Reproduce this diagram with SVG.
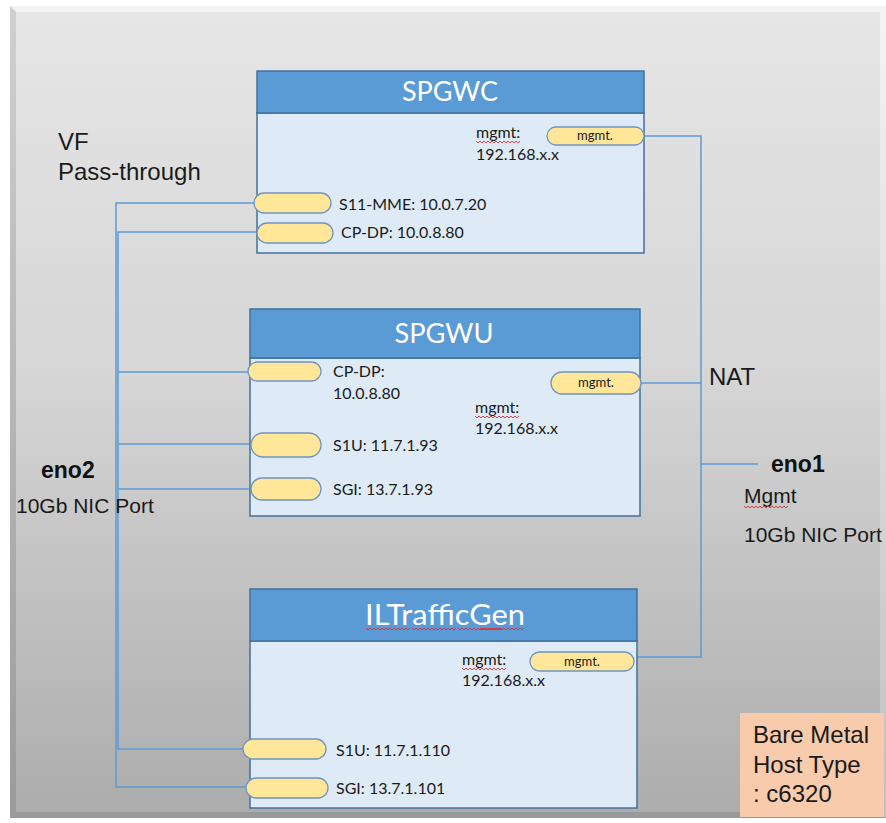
<svg xmlns="http://www.w3.org/2000/svg" width="886" height="823" viewBox="0 0 886 823">
  <defs>
    <linearGradient id="hostFill" x1="0" y1="0" x2="0" y2="1">
      <stop offset="0" stop-color="#e6e6e6"/>
      <stop offset="0.45" stop-color="#d6d6d6"/>
      <stop offset="1" stop-color="#acacac"/>
    </linearGradient>
    <linearGradient id="leftBevel" x1="0" y1="0" x2="0" y2="1">
      <stop offset="0" stop-color="#d0d0d0"/>
      <stop offset="1" stop-color="#9a9a9a"/>
    </linearGradient>
    <linearGradient id="rightBevel" x1="0" y1="0" x2="0" y2="1">
      <stop offset="0" stop-color="#f4f4f4"/>
      <stop offset="1" stop-color="#c0c0c0"/>
    </linearGradient>
    <!-- short wavy underline (spell-check mark) -->
    <path id="squiggle" d="M0 0 l2 2 l2 -2 l2 2 l2 -2 l2 2 l2 -2 l2 2 l2 -2 l2 2 l2 -2 l2 2 l2 -2 l2 2 l2 -2 l2 2 l2 -2 l2 2 l2 -2 l2 2 l2 -2 l2 2 l2 -2"/>
  </defs>
  <style>
    .hdr { fill: #5b9bd5; stroke: #41719c; stroke-width: 1.5; }
    .body { fill: #deebf7; stroke: #41719c; stroke-width: 1.5; }
    .title { font-family: Lato, "Open Sans", sans-serif; font-size: 27px; fill: #ffffff; text-anchor: middle; }
    .port { fill: #ffe699; stroke: #6f94bf; stroke-width: 1.3; }
    .portlbl { font-family: Lato, "Open Sans", sans-serif; font-size: 13px; fill: #1a1a1a; text-anchor: middle; }
    .lbl { font-family: Lato, "Open Sans", sans-serif; font-size: 16px; fill: #1a1a1a; }
    .note { font-family: "Liberation Sans", Arial, sans-serif; font-size: 24px; fill: #1a1a1a; }
    .nic { font-family: "Liberation Sans", Arial, sans-serif; font-size: 21px; fill: #1a1a1a; }
    .bold { font-family: "Liberation Sans", Arial, sans-serif; font-size: 23px; font-weight: bold; fill: #111111; }
    .wire { fill: none; stroke: #5b9bd5; stroke-width: 1.5; }
    .spell { fill: none; stroke: #e03030; stroke-width: 0.9; }
  </style>

  <!-- host frame -->
  <g id="host">
    <rect x="10" y="6" width="876" height="812" fill="url(#hostFill)"/>
    <polygon points="10,6 886,6 880,12 16,12" fill="#f3f3f3"/>
    <polygon points="10,6 16,12 16,812 10,818" fill="url(#leftBevel)"/>
    <polygon points="10,818 16,812 880,812 886,818" fill="#999999"/>
    <polygon points="886,6 886,818 880,812 880,12" fill="url(#rightBevel)"/>
  </g>

  <!-- connectors -->
  <g id="connectors">
    <!-- eno2 VF pass-through bus -->
    <path class="wire" d="M254 203 H116 V787 H246"/>
    <path class="wire" d="M257 232 H118 V749 H243"/>
    <path class="wire" d="M118 372 H248"/>
    <path class="wire" d="M118 444 H251"/>
    <path class="wire" d="M118 489 H251"/>
    <!-- eno1 NAT management bus -->
    <path class="wire" d="M644 136 H701 V657 H634"/>
    <path class="wire" d="M641 383 H701"/>
    <path class="wire" d="M701 464 H758"/>
  </g>

  <!-- SPGWC -->
  <g id="spgwc">
    <rect class="body" x="257" y="113" width="387" height="140"/>
    <rect class="hdr" x="257" y="71" width="387" height="42"/>
    <text class="title" x="450" y="101" textLength="96" lengthAdjust="spacingAndGlyphs">SPGWC</text>
    <rect class="port" x="547" y="127" width="97" height="18" rx="9"/>
    <text class="portlbl" x="595" y="140">mgmt.</text>
    <text class="lbl" x="476" y="138">mgmt:</text>
    <use href="#squiggle" class="spell" x="476" y="141"/>
    <text class="lbl" x="476" y="160">192.168.x.x</text>
    <rect class="port" x="254" y="193" width="77" height="20" rx="10"/>
    <text class="lbl" x="339" y="210">S11-MME: 10.0.7.20</text>
    <rect class="port" x="257" y="223" width="76" height="20" rx="10"/>
    <text class="lbl" x="341" y="238">CP-DP: 10.0.8.80</text>
  </g>

  <!-- SPGWU -->
  <g id="spgwu">
    <rect class="body" x="250" y="358" width="390" height="158"/>
    <rect class="hdr" x="250" y="309" width="390" height="49"/>
    <text class="title" x="444" y="343" textLength="99" lengthAdjust="spacingAndGlyphs">SPGWU</text>
    <rect class="port" x="248" y="362" width="73" height="19" rx="9.5"/>
    <text class="lbl" x="333" y="377">CP-DP:</text>
    <text class="lbl" x="333" y="399">10.0.8.80</text>
    <rect class="port" x="551" y="372" width="90" height="22" rx="11"/>
    <text class="portlbl" x="596" y="387">mgmt.</text>
    <text class="lbl" x="475" y="413">mgmt:</text>
    <use href="#squiggle" class="spell" x="475" y="416"/>
    <text class="lbl" x="475" y="434">192.168.x.x</text>
    <rect class="port" x="251" y="433" width="70" height="24" rx="12"/>
    <text class="lbl" x="333" y="451">S1U: 11.7.1.93</text>
    <rect class="port" x="251" y="478" width="70" height="22" rx="11"/>
    <text class="lbl" x="333" y="495">SGI: 13.7.1.93</text>
  </g>

  <!-- ILTrafficGen -->
  <g id="iltrafficgen">
    <rect class="body" x="250" y="641" width="387" height="167"/>
    <rect class="hdr" x="250" y="589" width="387" height="52"/>
    <text class="title" x="445" y="625" style="font-size:28px" textLength="160" lengthAdjust="spacingAndGlyphs">ILTrafficGen</text>
    <use href="#squiggle" class="spell" x="366" y="628"/>
    <use href="#squiggle" class="spell" x="412" y="628"/>
    <use href="#squiggle" class="spell" x="458" y="628"/>
    <use href="#squiggle" class="spell" x="480" y="628"/>
    <rect class="port" x="530" y="652" width="104" height="19" rx="9.5"/>
    <text class="portlbl" x="582" y="666">mgmt.</text>
    <text class="lbl" x="462" y="665">mgmt:</text>
    <use href="#squiggle" class="spell" x="462" y="668"/>
    <text class="lbl" x="462" y="686">192.168.x.x</text>
    <rect class="port" x="243" y="739" width="83" height="20" rx="10"/>
    <text class="lbl" x="336" y="756">S1U: 11.7.1.110</text>
    <rect class="port" x="246" y="778" width="82" height="20" rx="10"/>
    <text class="lbl" x="336" y="794">SGI: 13.7.1.101</text>
  </g>

  <!-- eno2 NIC -->
  <g id="eno2">
    <text class="note" x="58" y="150">VF</text>
    <text class="note" x="58" y="180">Pass-through</text>
    <text class="bold" x="41" y="478">eno2</text>
    <text class="nic" x="16" y="513">10Gb NIC Port</text>
  </g>

  <!-- eno1 NIC -->
  <g id="eno1">
    <text class="note" x="709" y="385">NAT</text>
    <text class="bold" x="771" y="472">eno1</text>
    <text class="nic" x="744" y="503">Mgmt</text>
    <use href="#squiggle" class="spell" x="744" y="506"/>
    <text class="nic" x="744" y="542">10Gb NIC Port</text>
  </g>

  <!-- host type -->
  <g id="host-type">
    <rect x="740" y="713" width="144" height="104" fill="#f8cbad"/>
    <text class="note" x="753" y="743">Bare Metal</text>
    <text class="note" x="753" y="773">Host Type</text>
    <text class="note" x="753" y="802">: c6320</text>
  </g>
</svg>
